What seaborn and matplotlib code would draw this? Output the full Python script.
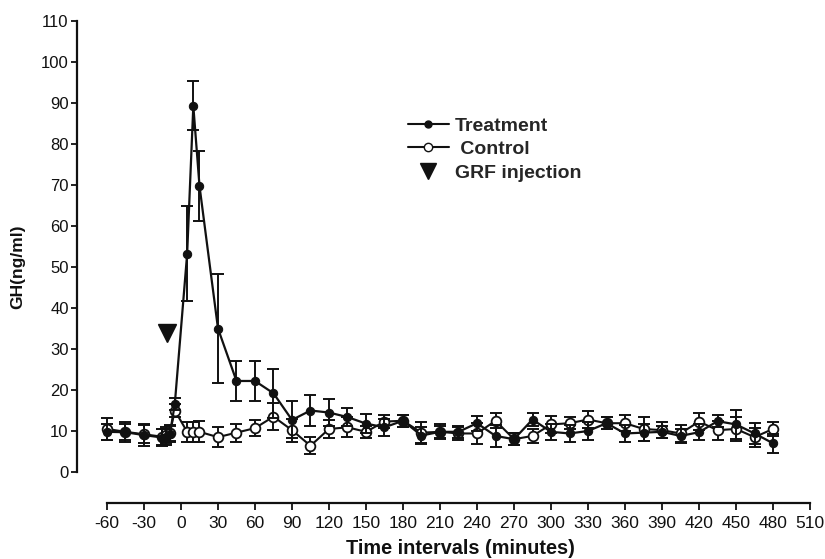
import numpy as np
import pandas as pd
import matplotlib
matplotlib.use("Agg")
import matplotlib.pyplot as plt
from matplotlib.lines import Line2D
import seaborn as sns

# ---- data ----
times = [-60, -45, -30, -15, -12, -9, -5, 5, 10, 15, 30, 45, 60, 75, 90, 105, 120,
         135, 150, 165, 180, 195, 210, 225, 240, 255, 270, 285, 300, 315, 330, 345,
         360, 375, 390, 405, 420, 435, 450, 465, 480]
treatment = [9.8, 9.7, 9.0, 8.4, 8.6, 9.2, 16.6, 53.2, 89.3, 69.8, 35.0, 22.2, 22.2,
             19.2, 12.7, 15.0, 14.5, 13.4, 11.8, 10.9, 12.5, 8.9, 9.8, 9.8, 11.9, 8.8,
             8.0, 12.8, 9.8, 9.4, 10.0, 11.9, 9.4, 9.6, 9.8, 8.8, 9.7, 12.4, 11.6, 9.4, 7.0]
treatment_sem = [2.0, 2.4, 2.6, 2.0, 2.0, 2.0, 1.5, 11.6, 6.0, 8.5, 13.2, 4.9, 4.8,
                 6.0, 4.5, 3.7, 3.3, 2.3, 2.4, 2.0, 1.5, 2.0, 1.8, 1.5, 1.8, 2.6, 1.5,
                 1.5, 2.0, 2.0, 2.2, 1.5, 2.0, 2.0, 1.5, 1.8, 2.0, 1.5, 3.5, 2.5, 2.3]
control = [10.5, 9.8, 9.2, 8.6, 9.0, 9.5, 15.0, 9.8, 9.8, 9.8, 8.5, 9.6, 10.7, 13.5,
           10.2, 6.4, 10.5, 10.9, 9.8, 12.3, 12.5, 9.6, 9.8, 9.4, 9.4, 12.5, 8.0, 8.8,
           11.6, 11.9, 12.8, 11.9, 11.9, 10.5, 10.2, 9.4, 12.3, 10.2, 10.5, 8.5, 10.5]
control_sem = [2.6, 2.0, 2.2, 2.0, 2.0, 2.0, 1.5, 2.4, 2.4, 2.6, 2.4, 2.2, 2.0, 3.3,
               2.8, 2.1, 2.2, 2.4, 1.5, 1.5, 1.5, 2.5, 1.5, 1.5, 2.5, 1.8, 1.5, 1.8,
               2.0, 1.5, 2.0, 1.5, 2.0, 3.0, 2.0, 2.0, 2.0, 2.3, 3.0, 2.3, 1.8]
grf_time = [-11]
grf_level = [34]
x_ticks = list(range(-60, 511, 30))
y_ticks = list(range(0, 111, 10))

sns.set_style("ticks")
plt.rcParams['font.family'] = ['Liberation Sans', 'DejaVu Sans']

W, H = 825, 559
fig = plt.figure(figsize=(W / 100, H / 100), dpi=100)
ax = fig.add_axes([77 / W, (H - 472) / H, (812 - 77) / W, (472 - 21) / H])

df_t = pd.DataFrame({"time": times, "gh": treatment})
df_c = pd.DataFrame({"time": times, "gh": control})

ink = '#111111'
# control (open circles)
ax.errorbar(times, control, yerr=control_sem, fmt='none', ecolor=ink,
            elinewidth=1.4, capsize=4, capthick=1.4, zorder=2)
sns.lineplot(data=df_c, x="time", y="gh", ax=ax, color=ink, linewidth=1.5,
             marker='o', markersize=7, markerfacecolor='white',
             markeredgecolor=ink, markeredgewidth=1.3, zorder=3)
# treatment (filled circles)
ax.errorbar(times, treatment, yerr=treatment_sem, fmt='none', ecolor=ink,
            elinewidth=1.4, capsize=4, capthick=1.4, zorder=4)
sns.lineplot(data=df_t, x="time", y="gh", ax=ax, color=ink, linewidth=1.6,
             marker='o', markersize=6, markerfacecolor=ink,
             markeredgecolor=ink, zorder=5)
# GRF injection marker
ax.plot(grf_time, grf_level, linestyle='none', marker='v', markersize=13,
        color=ink, zorder=6)

ax.set_xlim(-84.3, 511.6)
ax.set_ylim(0, 110)
ax.set_xticks(x_ticks, labels=[str(t) for t in x_ticks])
ax.set_yticks(y_ticks, labels=[str(t) for t in y_ticks])
ax.set_xlabel("")
ax.set_ylabel("")

for s in ['top', 'right']:
    ax.spines[s].set_visible(False)
ax.spines['left'].set_bounds(0, 110)
ax.spines['bottom'].set_bounds(-60, 510)
ax.spines['bottom'].set_position(('outward', 31 * 72 / 100))
for s in ['left', 'bottom']:
    ax.spines[s].set_linewidth(1.6)
    ax.spines[s].set_color(ink)
ax.tick_params(axis='y', direction='out', length=4, width=1.3, pad=2,
               colors=ink, labelsize=12)
ax.tick_params(axis='x', direction='out', length=5, width=1.3, pad=4,
               colors=ink, labelsize=12.5)

fig.text(460 / W, 1 - 549 / H, "Time intervals (minutes)", ha='center', va='center',
         fontsize=14.3, fontweight='bold', color=ink)
fig.text(18 / W, 1 - 267 / H, "GH(ng/ml)", ha='center', va='center', rotation=90,
         fontsize=12.5, fontweight='bold', color=ink)

handles = [
    Line2D([], [], color=ink, linewidth=1.5, marker='o', markersize=5,
           markerfacecolor=ink),
    Line2D([], [], color=ink, linewidth=1.5, marker='o', markersize=6,
           markerfacecolor='white', markeredgecolor=ink),
    Line2D([], [], color=ink, linestyle='none', marker='v', markersize=12),
]
labels = ["Treatment", " Control", "GRF injection"]
leg = ax.legend(handles, labels, loc='upper left', bbox_to_anchor=(408 / W, 1 - 117 / H),
                bbox_transform=fig.transFigure, frameon=False, borderpad=0,
                borderaxespad=0, handlelength=2.1, handletextpad=0.3, labelspacing=0.3,
                prop={'weight': 'bold', 'size': 14})

fig.savefig("out.png", dpi=100, facecolor='white')
